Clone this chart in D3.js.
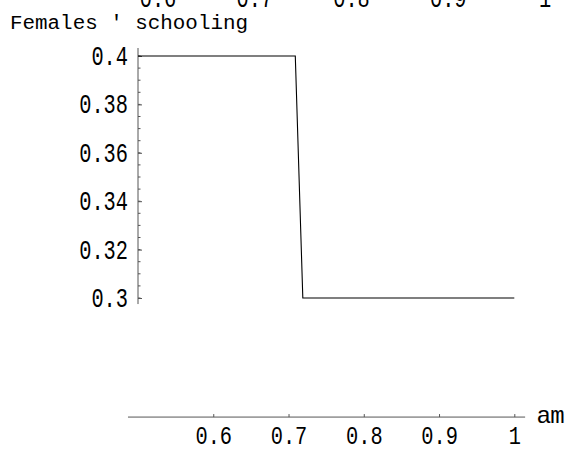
<!DOCTYPE html>
<html>
<head>
<meta charset="utf-8">
<script src="https://cdn.jsdelivr.net/npm/d3@7"></script>
<style>
  html, body { margin: 0; padding: 0; background: #fff; }
  svg { display: block; }
</style>
</head>
<body>
<div id="app"></div>
<script>
// step curve of females' schooling against am
const am_values = [0.5, 0.709, 0.719, 1]
const schooling_values = [0.4, 0.4, 0.3, 0.3]

const x_ticks = [0.6, 0.7, 0.8, 0.9, 1]
const y_ticks = [0.3, 0.32, 0.34, 0.36, 0.38, 0.4]
const y_minor = d3.range(0.3, 0.4001, 0.005)
// labels of the panel above, cut at the top edge
const top_ticks = [0.6, 0.7, 0.8, 0.9, 1]

const y_label = "Females ' schooling"

const width = 571, height = 450
const char_w = 12.2

const svg = d3.create('svg')
    .attr('width', width)
    .attr('height', height)
    .attr('viewBox', [0, 0, width, height])

const x = d3.scaleLinear().domain([0.5, 1]).range([138, 514.3])
const y = d3.scaleLinear().domain([0.3, 0.4]).range([298, 56])
const x_top = d3.scaleLinear().domain([0.6, 1]).range([158, 545])

const fmt = d => d3.format('~g')(d)
const axis_color = '#555'
const mono = 'Liberation Mono, Courier New, monospace'

// squeeze labels to the narrow width of the original
function squeeze(sel) {
    sel.each(function () {
        const t = d3.select(this)
        t.attr('textLength', t.text().length * char_w).attr('lengthAdjust', 'spacingAndGlyphs')
    })
}

// x axis
const x_axis_y = y(0.2508)
svg.append('line')
    .attr('x1', x(0.4867)).attr('x2', x(1.0144))
    .attr('y1', x_axis_y).attr('y2', x_axis_y)
    .attr('stroke', axis_color)

const gx = svg.append('g')
    .attr('transform', `translate(0,${x_axis_y})`)
    .call(d3.axisBottom(x).tickValues(x_ticks).tickFormat(fmt).tickSize(-3).tickSizeOuter(0).tickPadding(27))
gx.select('.domain').remove()
gx.selectAll('.tick line').attr('stroke', axis_color)
gx.selectAll('.tick text')
    .attr('dy', 0)
    .attr('font-family', mono)
    .attr('font-size', 25)
    .attr('fill', '#000')
    .call(squeeze)

svg.append('text')
    .attr('x', 537)
    .attr('y', 423)
    .attr('font-size', 24)
    .call(t => t.append('tspan').attr('font-family', 'Liberation Sans, Arial, sans-serif').text('a'))
    .call(t => t.append('tspan').attr('font-family', mono).text('m'))

// y axis
const y_axis_x = x(0.5)
svg.append('line')
    .attr('x1', y_axis_x).attr('x2', y_axis_x)
    .attr('y1', y(0.4033)).attr('y2', y(0.2975))
    .attr('stroke', axis_color)

svg.append('g')
    .selectAll('line')
    .data(y_minor)
    .join('line')
    .attr('x1', y_axis_x).attr('x2', y_axis_x + 2.5)
    .attr('y1', d => y(d)).attr('y2', d => y(d))
    .attr('stroke', axis_color)

const gy = svg.append('g')
    .attr('transform', `translate(${y_axis_x},0)`)
    .call(d3.axisLeft(y).tickValues(y_ticks).tickFormat(fmt).tickSize(-4).tickSizeOuter(0).tickPadding(10))
gy.select('.domain').remove()
gy.selectAll('.tick line').attr('stroke', axis_color)
gy.selectAll('.tick text')
    .attr('dy', 8.5)
    .attr('font-family', mono)
    .attr('font-size', 27)
    .attr('fill', '#000')
    .call(squeeze)

svg.append('text')
    .attr('x', 10)
    .attr('y', 29)
    .attr('font-family', mono)
    .attr('font-size', 20)
    .attr('textLength', 238)
    .attr('lengthAdjust', 'spacingAndGlyphs')
    .text(y_label)

// cut labels from the panel above
svg.append('g')
    .selectAll('text')
    .data(top_ticks)
    .join('text')
    .attr('x', d => x_top(d))
    .attr('y', 7)
    .attr('text-anchor', 'middle')
    .attr('font-family', mono)
    .attr('font-size', 27)
    .text(fmt)
    .call(squeeze)

// data line
const line = d3.line()
    .x(d => x(d[0]))
    .y(d => y(d[1]))

svg.append('path')
    .datum(d3.zip(am_values, schooling_values))
    .attr('d', line)
    .attr('fill', 'none')
    .attr('stroke', '#000')
    .attr('stroke-width', 1.1)

d3.select('#app').append(() => svg.node())
</script>
</body>
</html>
